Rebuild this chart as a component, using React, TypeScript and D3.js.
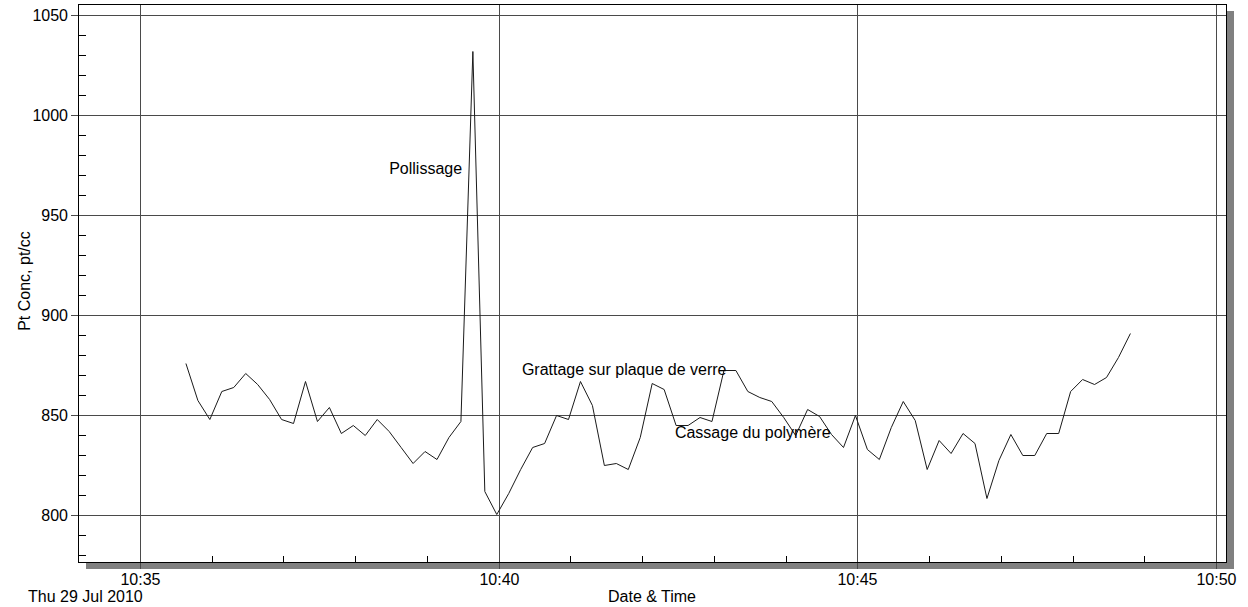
import React from 'react';
import * as d3 from 'd3';

// Pt concentration logged every 10 s, Thu 29 Jul 2010
const times: string[] = [
  '10:35:38', '10:35:48', '10:35:58',
  '10:36:08', '10:36:18', '10:36:28', '10:36:38', '10:36:48', '10:36:58',
  '10:37:08', '10:37:18', '10:37:28', '10:37:38', '10:37:48', '10:37:58',
  '10:38:08', '10:38:18', '10:38:28', '10:38:38', '10:38:48', '10:38:58',
  '10:39:08', '10:39:18', '10:39:28', '10:39:38', '10:39:48', '10:39:58',
  '10:40:08', '10:40:18', '10:40:28', '10:40:38', '10:40:48', '10:40:58',
  '10:41:08', '10:41:18', '10:41:28', '10:41:38', '10:41:48', '10:41:58',
  '10:42:08', '10:42:18', '10:42:28', '10:42:38', '10:42:48', '10:42:58',
  '10:43:08', '10:43:18', '10:43:28', '10:43:38', '10:43:48', '10:43:58',
  '10:44:08', '10:44:18', '10:44:28', '10:44:38', '10:44:48', '10:44:58',
  '10:45:08', '10:45:18', '10:45:28', '10:45:38', '10:45:48', '10:45:58',
  '10:46:08', '10:46:18', '10:46:28', '10:46:38', '10:46:48', '10:46:58',
  '10:47:08', '10:47:18', '10:47:28', '10:47:38', '10:47:48', '10:47:58',
  '10:48:08', '10:48:18', '10:48:28', '10:48:38', '10:48:48',
];

const ptConc: number[] = [
  876, 857.5, 848, 862, 864, 871, 865.5, 858, 848, 846,
  867, 847, 854, 841, 845, 840, 848, 842, 834, 826,
  832, 828, 839, 847, 1032, 812, 800.5, 811, 823, 834,
  836, 850, 848, 867, 855, 825, 826, 823, 839, 866,
  863, 845, 845, 849, 847, 872.5, 872.5, 862, 859, 857,
  849, 840, 853, 849.5, 840.5, 834, 850, 833, 828, 844,
  857, 847.5, 823, 837.5, 831, 841, 836, 808.5, 827.5, 840.5,
  830, 830, 841, 841, 862, 868, 865.5, 869, 879, 891,
];

const yMajorTicks = [800, 850, 900, 950, 1000, 1050];
const yMinorTicks = d3.range(780, 1051, 10);
const xMajorTicks = ['10:35', '10:40', '10:45', '10:50'];
const xMinorTicks = ['10:36', '10:37', '10:38', '10:39', '10:41', '10:42', '10:43', '10:44',
  '10:46', '10:47', '10:48', '10:49'];

const annotations = [
  { label: 'Pollissage', time: '10:38:28', value: 971 },
  { label: 'Grattage sur plaque de verre', time: '10:40:19', value: 870.5 },
  { label: 'Cassage du polymère', time: '10:42:27', value: 839 },
];

const W = 1248;
const H = 607;
const FONT = '"Liberation Sans", Arial, Helvetica, sans-serif';

const parse = (s: string) => {
  const p = s.split(':').map(Number);
  return new Date(2010, 6, 29, p[0], p[1], p[2] || 0);
};

export default function App() {
  const frame = { left: 78.5, top: 4.5, right: 1226.5, bottom: 562.5 };

  const x = d3.scaleTime()
    .domain([parse('10:35'), parse('10:50')])
    .range([140.5, 1216.5]);
  const y = d3.scaleLinear()
    .domain([800, 1050])
    .range([515.5, 15.5]);

  const snap = (v: number) => Math.floor(v) + 0.5;

  const line = d3.line<number>()
    .x((_, i) => x(parse(times[i])))
    .y(d => y(d));

  const grid = '#4a4a4a';

  return (
    <svg width={W} height={H} style={{ position: 'absolute', left: 0, top: 0, background: '#fff' }}
      fontFamily={FONT} fontSize={16}>
      {/* shadow */}
      <rect x={1227} y={11} width={7} height={558} fill="#808080" />
      <rect x={86} y={563} width={1148} height={6} fill="#808080" />
      <rect x={frame.left} y={frame.top} width={frame.right - frame.left}
        height={frame.bottom - frame.top} fill="#fff" />

      {/* horizontal grid + major ticks */}
      {yMajorTicks.map(t => (
        <g key={'ym' + t}>
          <line x1={71} x2={frame.right} y1={snap(y(t))} y2={snap(y(t))}
            stroke={grid} shapeRendering="crispEdges" />
          <text x={68} y={snap(y(t)) + 5.5} textAnchor="end" fill="#000">{t}</text>
        </g>
      ))}
      {yMinorTicks.filter(t => t % 50 !== 0).map(t => (
        <line key={'yn' + t} x1={frame.left} x2={86} y1={snap(y(t))} y2={snap(y(t))}
          stroke="#000" shapeRendering="crispEdges" />
      ))}

      {/* vertical grid + major ticks */}
      {xMajorTicks.map(t => (
        <g key={'xm' + t}>
          <line x1={snap(x(parse(t)))} x2={snap(x(parse(t)))} y1={frame.top} y2={569}
            stroke={grid} shapeRendering="crispEdges" />
          <text x={snap(x(parse(t)))} y={585} textAnchor="middle" fill="#000">{t}</text>
        </g>
      ))}
      {xMinorTicks.map(t => (
        <line key={'xn' + t} x1={snap(x(parse(t)))} x2={snap(x(parse(t)))} y1={556} y2={frame.bottom}
          stroke="#000" shapeRendering="crispEdges" />
      ))}

      {/* frame */}
      <rect x={frame.left} y={frame.top} width={frame.right - frame.left}
        height={frame.bottom - frame.top} fill="none" stroke="#000" shapeRendering="crispEdges" />

      {/* data */}
      <path d={line(ptConc) || ''} fill="none" stroke="#1a1a1a" strokeWidth={1} />

      {annotations.map(a => (
        <text key={a.label} x={x(parse(a.time))} y={y(a.value)} fill="#000">{a.label}</text>
      ))}

      {/* axis titles */}
      <text transform="translate(30,281) rotate(-90)" textAnchor="middle" fill="#000">Pt Conc, pt/cc</text>
      <text x={652} y={602} textAnchor="middle" fill="#000">Date &amp; Time</text>
      <text x={28} y={602} fill="#000">Thu 29 Jul 2010</text>
    </svg>
  );
}
